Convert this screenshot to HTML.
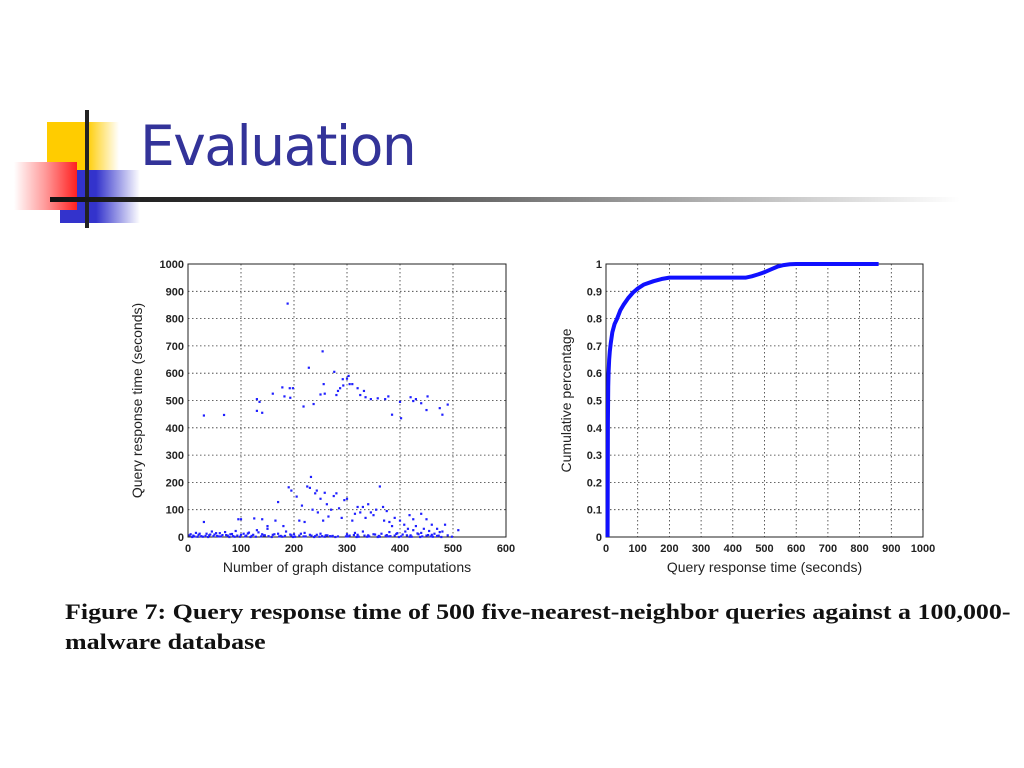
<!DOCTYPE html>
<html><head><meta charset="utf-8"><style>
body{margin:0;width:1024px;height:768px;background:#fff;overflow:hidden;position:relative;font-family:"Liberation Sans",sans-serif}
.abs{position:absolute}
</style></head><body>
<div class="abs" style="left:47px;top:122px;width:72px;height:50px;background:linear-gradient(90deg,#ffcc00 0,#ffcc00 55%,#fff 100%)"></div>
<div class="abs" style="left:60px;top:170px;width:80px;height:53px;background:linear-gradient(90deg,#3333cc 0,#3333cc 45%,#fff 100%)"></div>
<div class="abs" style="left:14px;top:162px;width:63px;height:48px;background:linear-gradient(90deg,#fff 0,#ff9999 50%,#ff2020 100%)"></div>
<div class="abs" style="left:85px;top:110px;width:4px;height:118px;background:#222"></div>
<div class="abs" style="left:50px;top:197px;width:910px;height:5px;background:linear-gradient(90deg,#111 0,#555 40%,#fff 100%)"></div>
<div class="abs" style="left:140px;top:114px;font-size:55px;color:#333399;font-family:'DejaVu Sans','Liberation Sans',sans-serif;letter-spacing:-1.5px">Evaluation</div>
<svg class="abs" style="left:0;top:0" width="1024" height="768" id="svg"></svg>
<div class="abs" style="left:65px;top:597px;font-family:'Liberation Serif',serif;font-weight:bold;font-size:22px;line-height:30px;color:#111;transform-origin:0 0;transform:scaleX(1.18);white-space:nowrap">Figure 7: Query response time of 500 five-nearest-neighbor queries against a 100,000-<br>malware database</div>
<script>
const scatterX=[30,68,130,135,130,140,160,178,182,188,192,198,193,218,228,237,250,254,256,258,276,280,283,287,292,293,300,303,305,310,320,325,332,335,345,358,372,378,385,400,402,420,425,430,440,450,452,475,480,490,
190,195,170,205,225,232,230,240,243,250,258,270,275,280,285,295,300,262,215,315,320,330,340,345,355,362,368,375,380,390,408,418,425,440,450,460,485,510,95,100,125,140,150,165,180,210,220,235,245,255,265,290,310,325,335,350,370,385,400,415,430,445,470,30,480,
5,10,15,20,25,35,40,45,50,55,60,65,70,75,80,85,90,100,105,110,115,120,130,140,145,150,160,170,175,185,195,200,210,220,230,240,250,260,270,300,305,315,320,330,340,350,360,365,375,380,390,395,405,410,420,425,435,440,450,455,460,465,470,475,490,12,28,48,62,88,108,128,152,172,202,222,248,268,302,322,342,362,382,402,422,442,462,
8,18,38,58,78,98,118,138,158,178,198,218,238,258,278,298,318,338,358,378,398,418,438,458,478,498,
3,22,33,42,53,72,83,93,113,123,133,143,163,183,193,213,233,243,253,263,273,283,313,333,353,373,393,413,433,453,473];
const scatterY=[445,447,505,495,462,455,525,548,515,855,545,545,510,478,620,487,522,680,560,525,605,520,535,545,578,555,580,590,560,560,545,520,535,512,505,508,505,515,448,495,435,512,498,505,490,465,515,472,448,485,
182,170,128,148,185,220,180,160,170,140,162,100,150,160,105,135,140,120,115,85,110,110,120,90,100,185,110,95,55,70,45,80,65,85,65,45,45,25,65,65,68,65,40,60,40,60,55,100,90,60,75,70,60,90,70,80,60,40,60,30,40,30,30,55,20,
10,5,15,8,3,12,6,20,9,4,14,7,18,5,10,3,22,8,12,5,16,4,25,10,6,30,8,12,4,20,6,10,5,15,8,3,12,6,2,10,5,15,8,20,6,10,4,12,7,18,5,14,9,20,6,25,10,15,5,22,8,12,4,18,6,2,1,3,2,1,2,1,3,2,1,2,1,3,2,1,2,1,3,2,1,2,1,
0,1,0,2,0,1,0,2,0,1,0,2,0,1,0,2,0,1,0,2,0,1,0,2,0,1,
6,12,4,9,14,7,11,5,13,8,17,6,10,4,9,12,5,8,3,6,4,2,7,5,9,4,11,6,13,7,5];
const cdfX=[5,6,7,8,10,12,15,20,27,35,45,55,70,85,100,120,150,175,200,300,440,460,480,500,520,540,560,580,600,860];
const cdfY=[0,0.42,0.55,0.6,0.65,0.68,0.71,0.75,0.78,0.8,0.83,0.85,0.875,0.895,0.91,0.925,0.937,0.945,0.95,0.95,0.95,0.955,0.962,0.97,0.98,0.99,0.996,0.999,1,1];
const leftXTicks=[0,100,200,300,400,500,600];
const leftYTicks=[0,100,200,300,400,500,600,700,800,900,1000];
const rightXTicks=[0,100,200,300,400,500,600,700,800,900,1000];
const rightYTicks=[0,0.1,0.2,0.3,0.4,0.5,0.6,0.7,0.8,0.9,1];
const NS='http://www.w3.org/2000/svg',svg=document.getElementById('svg');
function mk(t,a,txt){const e=document.createElementNS(NS,t);for(const k in a)e.setAttribute(k,a[k]);if(txt!==undefined)e.textContent=txt;svg.appendChild(e);return e;}
function axes(L,R,T,B,xt,yt,xmax,ymax,xl,yl,pre){
 const sx=v=>L+v/xmax*(R-L),sy=v=>B-v/ymax*(B-T);
 xt.forEach(v=>{const x=sx(v);
  if(v>0&&v<xmax){const g=mk('line',{x1:x,x2:x,y1:T,y2:B,stroke:'#333','stroke-dasharray':'1.5,2.5','stroke-width':0.8});}
  const t=mk('text',{x:x,y:B+15,'text-anchor':'middle','font-size':11,'font-weight':'bold',fill:'#222'},v);
  });
 yt.forEach(v=>{const y=sy(v);
  if(v>0&&v<ymax){const g=mk('line',{x1:L,x2:R,y1:y,y2:y,stroke:'#333','stroke-dasharray':'1.5,2.5','stroke-width':0.8});}
  const t=mk('text',{x:L-4,y:y+4,'text-anchor':'end','font-size':11,'font-weight':'bold',fill:'#222'},v);
  });
 const r=mk('rect',{x:L,y:T,width:R-L,height:B-T,fill:'none',stroke:'#222','stroke-width':1});
 
 const a=mk('text',{x:(L+R)/2,y:B+35,'text-anchor':'middle','font-size':14,fill:'#222'},xl);
 
 const b=mk('text',{x:0,y:0,'text-anchor':'middle','font-size':14,fill:'#222',transform:`translate(${pre=='left'?142:571},${(T+B)/2}) rotate(-90)`},yl);
 
 return [sx,sy];
}
const [lx,ly]=axes(188,506,264,537,leftXTicks,leftYTicks,600,1000,'Number of graph distance computations','Query response time (seconds)','left');
scatterX.forEach((x,i)=>{const c=mk('rect',{x:lx(x)-1.1,y:ly(scatterY[i])-1.1,width:2.2,height:2.2,fill:'#2020ff'});
 });
const [rx,ry]=axes(606,923,264,537,rightXTicks,rightYTicks,1000,1,'Query response time (seconds)','Cumulative percentage','right');
const p=mk('polyline',{points:cdfX.map((x,i)=>rx(x)+','+ry(cdfY[i])).join(' '),fill:'none',stroke:'#1010ff','stroke-width':4,'stroke-linejoin':'round'});

</script>
</body></html>
